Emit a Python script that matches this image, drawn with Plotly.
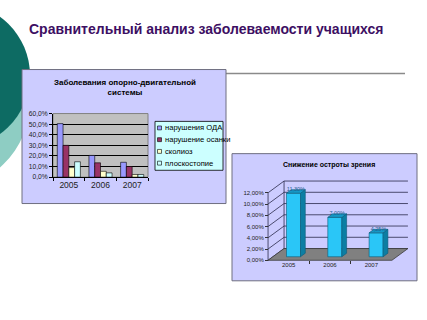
import plotly.graph_objects as go

# ---------------- data ----------------
years = ["2005", "2006", "2007"]
series_names = ["нарушения ОДА", "нарушение осанки", "сколиоз", "плоскостопие"]
oda = [50.5, 20.5, 14.0]
osanka = [30.0, 13.5, 10.0]
skolioz = [9.0, 5.5, 2.5]
ploskostopie = [14.5, 4.0, 2.5]
series_colors = ["#9999ff", "#993366", "#ffffcc", "#ccffff"]
left_ticks = [0, 10, 20, 30, 40, 50, 60]
left_ticktext = ["0,0%", "10,0%", "20,0%", "30,0%", "40,0%", "50,0%", "60,0%"]

vision = [11.3, 7.0, 4.25]
vision_labels = ["11,30%", "7,00%", "4,25%"]
right_ticks = [0, 2, 4, 6, 8, 10, 12]
right_ticktext = ["0,00%", "2,00%", "4,00%", "6,00%", "8,00%", "10,00%", "12,00%"]

main_title = "Сравнительный анализ заболеваемости учащихся"
left_title = "Заболевания опорно-двигательной<br>системы"
right_title = "Снижение остроты зрения"

# ---------------- geometry helpers ----------------
W, H = 427, 320
def X(p):
    return p / W
def Y(p):
    return 1 - p / H

fig = go.Figure()

# ----- left chart: grouped bars -----
all_series = [oda, osanka, skolioz, ploskostopie]
for name, vals, col in zip(series_names, all_series, series_colors):
    fig.add_trace(go.Bar(x=years, y=vals, name=name, marker=dict(color=col, line=dict(color="#000000", width=0.6)),
                         xaxis="x", yaxis="y", showlegend=False, hoverinfo="skip"))

# ----- right chart: pseudo-3D columns -----
PX_PER_UNIT = 41.3     # px per category
PX_PER_PCT = 5.75      # px per percent
DX = 16 / PX_PER_UNIT  # full depth offset (x units)
DY = 12 / PX_PER_PCT   # full depth offset (y units)
F = 0.3                # depth of bar front
BW = 14 / PX_PER_UNIT  # bar width
BDX, BDY = 0.3 * DX, 0.3 * DY

xs = [i + F * DX for i in range(len(vision))]
base = F * DY
fig.add_trace(go.Bar(x=xs, y=vision, base=[base] * len(vision), width=BW,
                     marker=dict(color="#2ac6f7", line=dict(color="#0b5d78", width=0.6)),
                     xaxis="x2", yaxis="y2", showlegend=False, hoverinfo="skip"))

side_x, side_y, top_x, top_y = [], [], [], []
for xc, v in zip(xs, vision):
    xl, xr = xc - BW / 2, xc + BW / 2
    side_x += [xr, xr + BDX, xr + BDX, xr, xr, None]
    side_y += [base, base + BDY, base + BDY + v, base + v, base, None]
    top_x += [xl, xr, xr + BDX, xl + BDX, xl, None]
    top_y += [base + v, base + v, base + v + BDY, base + v + BDY, base + v, None]
fig.add_trace(go.Scatter(x=side_x, y=side_y, fill="toself", fillcolor="#0c7ea3", mode="lines",
                         line=dict(color="#0b5d78", width=0.6), xaxis="x2", yaxis="y2",
                         showlegend=False, hoverinfo="skip"))
fig.add_trace(go.Scatter(x=top_x, y=top_y, fill="toself", fillcolor="#1598c6", mode="lines",
                         line=dict(color="#0b5d78", width=0.6), xaxis="x2", yaxis="y2",
                         showlegend=False, hoverinfo="skip"))
fig.add_trace(go.Scatter(x=[xc + BDX / 2 for xc in xs], y=[base + v + BDY / 2 + 0.3 for v in vision],
                         text=vision_labels, mode="text", textfont=dict(size=5.5, color="#1f5f8f"),
                         xaxis="x2", yaxis="y2", showlegend=False, hoverinfo="skip"))

# ---------------- shapes ----------------
shapes = []
def circle(cx, cy, r, col):
    return dict(type="circle", xref="paper", yref="paper", layer="below",
                x0=X(cx - r), x1=X(cx + r), y0=Y(cy + r), y1=Y(cy - r),
                fillcolor=col, line=dict(width=0))
shapes.append(circle(-60, 100, 90, "#8ecdc3"))
shapes.append(circle(-45, 73, 75, "#0d6b63"))
shapes.append(dict(type="line", xref="paper", yref="paper", layer="below",
                   x0=X(200), x1=X(405), y0=Y(71), y1=Y(71), line=dict(color="#8a8a8a", width=1.5)))
for (x0, y0, x1, y1) in [(22, 67, 226, 204), (232, 153, 417, 283)]:
    shapes.append(dict(type="rect", xref="paper", yref="paper", layer="below",
                       x0=X(x0), x1=X(x1), y0=Y(y1), y1=Y(y0),
                       fillcolor="#ccccff", line=dict(color="#6e6e80", width=1)))
shapes.append(dict(type="rect", xref="paper", yref="paper", layer="below",
                   x0=X(53), x1=X(148), y0=Y(177), y1=Y(112),
                   fillcolor="#c0c0c0", line=dict(color="#808080", width=1)))
shapes.append(dict(type="rect", xref="paper", yref="paper", layer="above",
                   x0=X(155), x1=X(223), y0=Y(170), y1=Y(120),
                   fillcolor="#ccffff", line=dict(color="#000000", width=0.8)))
leg_rows = [126.7, 138.7, 150.7, 162.7]
annotations = []
for name, col, ry in zip(series_names, series_colors, leg_rows):
    shapes.append(dict(type="rect", xref="paper", yref="paper", layer="above",
                       x0=X(157.5), x1=X(161.5), y0=Y(ry + 2), y1=Y(ry - 2),
                       fillcolor=col, line=dict(color="#000000", width=0.6)))
    annotations.append(dict(text=name, xref="paper", yref="paper", x=X(162.5), y=Y(ry),
                            xanchor="left", yanchor="middle", showarrow=False,
                            font=dict(size=7.6, color="#000000")))

wall = dict(color="#2a2a4a", width=0.8)
for v in right_ticks:
    shapes.append(dict(type="line", xref="x2", yref="y2", layer="below",
                       x0=-0.5 + DX, x1=2.5 + DX, y0=v + DY, y1=v + DY, line=wall))
    shapes.append(dict(type="line", xref="x2", yref="y2", layer="below",
                       x0=-0.5, x1=-0.5 + DX, y0=v, y1=v + DY, line=wall))
shapes.append(dict(type="line", xref="x2", yref="y2", layer="below",
                   x0=-0.5, x1=-0.5, y0=0, y1=right_ticks[-1], line=wall))
shapes.append(dict(type="line", xref="x2", yref="y2", layer="below",
                   x0=-0.5 + DX, x1=-0.5 + DX, y0=DY, y1=right_ticks[-1] + DY, line=wall))
shapes.append(dict(type="path", xref="x2", yref="y2", layer="below",
                   path=f"M {-0.5},0 L 2.5,0 L {2.5 + DX},{DY} L {-0.5 + DX},{DY} Z",
                   fillcolor="#808080", line=dict(color="#3a3a3a", width=0.8)))

# ---------------- titles ----------------
annotations.append(dict(text="<b>" + main_title + "</b>", xref="paper", yref="paper", x=X(27), y=Y(26),
                        xanchor="left", yanchor="middle", showarrow=False,
                        font=dict(family="Liberation Sans, Arial", size=14, color="#3d0f63")))
annotations.append(dict(text="<b>" + left_title + "</b>", xref="paper", yref="paper", x=X(125), y=Y(85),
                        xanchor="center", yanchor="middle", showarrow=False,
                        font=dict(family="Liberation Sans, Arial", size=8, color="#000000")))
annotations.append(dict(text="<b>" + right_title + "</b>", xref="paper", yref="paper", x=X(329), y=Y(165),
                        xanchor="center", yanchor="middle", showarrow=False,
                        font=dict(family="Liberation Sans, Arial", size=7, color="#000000")))

# ---------------- layout ----------------
fig.update_layout(
    width=W, height=H, autosize=False,
    margin=dict(l=0, r=0, t=0, b=0),
    paper_bgcolor="#ffffff", plot_bgcolor="rgba(0,0,0,0)",
    font=dict(family="Liberation Sans, Arial", color="#222222"),
    barmode="group", bargap=0.27, bargroupgap=0,
    showlegend=False,
    shapes=shapes, annotations=annotations,
    xaxis=dict(domain=[X(53), X(148)], anchor="y", type="category", showline=True, linecolor="#000000",
               linewidth=1, ticks="outside", tickson="boundaries", ticklen=3, tickcolor="#000000",
               tickfont=dict(size=8.5, color="#222222"), showgrid=False, fixedrange=True),
    yaxis=dict(domain=[Y(177), Y(112)], anchor="x", range=[0, 60], tickmode="array",
               tickvals=left_ticks, ticktext=left_ticktext, showgrid=True, gridcolor="#000000", gridwidth=1,
               showline=True, linecolor="#000000", ticks="outside", ticklen=3, tickcolor="#000000",
               zeroline=False, tickfont=dict(size=6.7, color="#222222"), fixedrange=True),
    xaxis2=dict(domain=[X(232), X(417)], anchor="free", position=Y(262),
                range=[(232 - 288.7) / PX_PER_UNIT, (417 - 288.7) / PX_PER_UNIT],
                tickmode="array", tickvals=[0, 1, 2], ticktext=years, ticks="", showgrid=False, zeroline=False,
                showline=False, tickfont=dict(size=6, color="#222222"),
                minor=dict(tickmode="array", tickvals=[0.5, 1.5], ticks="outside", ticklen=3,
                           tickcolor="#333333", showgrid=False),
                fixedrange=True),
    yaxis2=dict(domain=[Y(283), Y(153)], anchor="free", position=X(268),
                range=[(262 - 283) / PX_PER_PCT, (262 - 153) / PX_PER_PCT],
                tickmode="array", tickvals=right_ticks, ticktext=right_ticktext, ticks="outside", ticklen=3,
                tickcolor="#333333", showgrid=False, zeroline=False, showline=False,
                tickfont=dict(size=6, color="#222222"), fixedrange=True),
)

fig.write_html("out.html")
